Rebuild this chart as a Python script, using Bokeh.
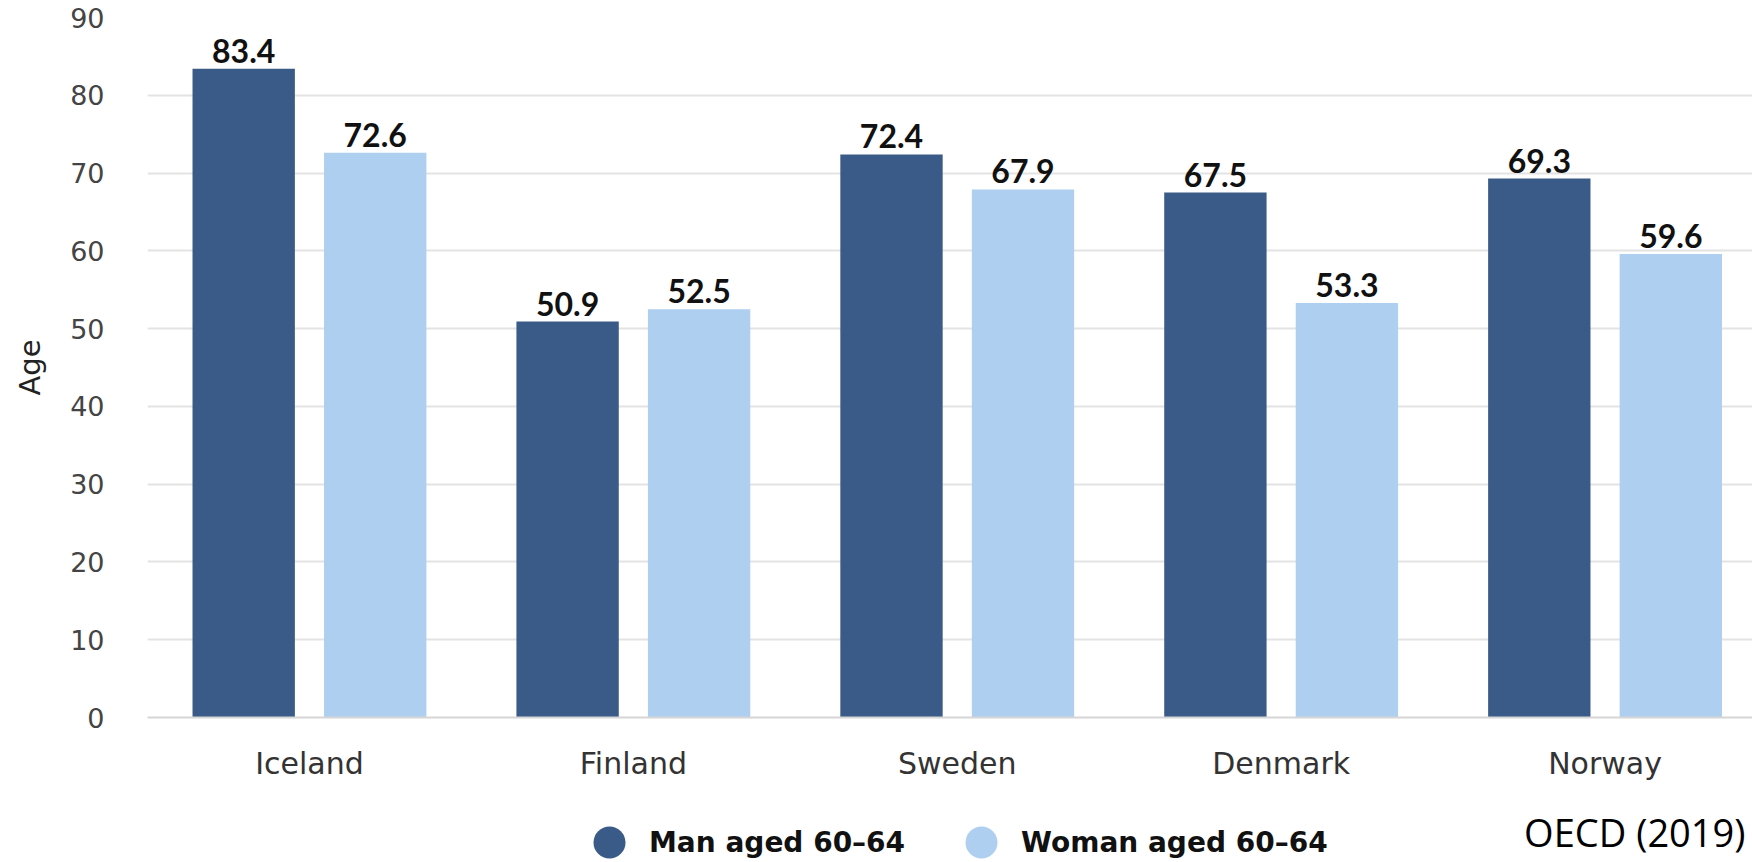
from bokeh.plotting import figure
from bokeh.layouts import column
from bokeh.models import ColumnDataSource, Range1d, FixedTicker, Legend, LegendItem, Label
from bokeh.transform import dodge
from bokeh.core.properties import value
from bokeh.embed import file_html
from bokeh.resources import INLINE

# ---- data ----
countries = ["Iceland", "Finland", "Sweden", "Denmark", "Norway"]
man_60_64 = [83.4, 50.9, 72.4, 67.5, 69.3]
woman_60_64 = [72.6, 52.5, 67.9, 53.3, 59.6]
y_ticks = [0, 10, 20, 30, 40, 50, 60, 70, 80, 90]
series_names = ["Man aged 60\u201364", "Woman aged 60\u201364"]
y_title = "Age"
source_note = "OECD (2019)"

# ---- style / layout ----
MAN_COLOR = "#3a5a87"
WOMAN_COLOR = "#aecff0"
W = 1752
H1, H2 = 790, 72
LEFT, TOP = 147, 17
BOTTOM = H1 - 717
frame_w = W - LEFT
CAT_PX = 323.9
BAR_W = 0.316
OFF = 0.203

pos = list(range(1, len(countries) + 1))
src = ColumnDataSource(dict(
    pos=pos,
    country=countries,
    man=man_60_64,
    woman=woman_60_64,
    man_lbl=[f"{v:.1f}" for v in man_60_64],
    woman_lbl=[f"{v:.1f}" for v in woman_60_64],
))

p = figure(width=W, height=H1,
           x_range=Range1d(0.5, 0.5 + frame_w / CAT_PX),
           y_range=Range1d(y_ticks[0], y_ticks[-1]),
           output_backend="svg", toolbar_location=None,
           min_border_left=LEFT, min_border_top=TOP,
           min_border_bottom=BOTTOM, min_border_right=0)
p.outline_line_color = None

p.vbar(x=dodge("pos", -OFF), top="man", width=BAR_W, source=src,
       fill_color=MAN_COLOR, line_color=None)
p.vbar(x=dodge("pos", OFF), top="woman", width=BAR_W, source=src,
       fill_color=WOMAN_COLOR, line_color=None)

lbl_kw = dict(text_align="center", text_baseline="bottom", y_offset=-6,
              text_font=value("Lato"), text_font_style="bold",
              text_font_size="32px", text_color="#111111")
p.text(x=dodge("pos", -OFF), y="man", text="man_lbl", source=src, **lbl_kw)
p.text(x=dodge("pos", OFF), y="woman", text="woman_lbl", source=src, **lbl_kw)

# axes
p.xaxis.ticker = FixedTicker(ticks=pos)
p.xaxis.major_label_overrides = {i: c for i, c in zip(pos, countries)}
p.xaxis.major_tick_line_color = None
p.xaxis.minor_tick_line_color = None
p.xaxis.major_tick_out = 0
p.xaxis.major_tick_in = 0
p.xaxis.axis_line_color = "#d6d6d6"
p.xaxis.axis_line_width = 2
p.xaxis.major_label_standoff = 28
p.xaxis.major_label_text_font = "DejaVu Sans"
p.xaxis.major_label_text_font_size = "30px"
p.xaxis.major_label_text_color = "#333333"

p.yaxis.ticker = FixedTicker(ticks=y_ticks)
p.yaxis.axis_line_color = None
p.yaxis.major_tick_line_color = None
p.yaxis.minor_tick_line_color = None
p.yaxis.major_tick_out = 0
p.yaxis.major_tick_in = 0
p.yaxis.major_label_standoff = 43
p.yaxis.major_label_text_font = "DejaVu Sans"
p.yaxis.major_label_text_font_size = "27px"
p.yaxis.major_label_text_color = "#444444"
p.yaxis.axis_label = y_title
p.yaxis.axis_label_text_font = "DejaVu Sans"
p.yaxis.axis_label_text_font_size = "29px"
p.yaxis.axis_label_text_font_style = "normal"
p.yaxis.axis_label_text_color = "#222222"
p.yaxis.axis_label_standoff = 20

p.xgrid.grid_line_color = None
p.ygrid.grid_line_color = "#e3e3e3"
p.ygrid.grid_line_width = 2

# ---- bottom strip: legend + source note ----
p2 = figure(width=W, height=H2, x_range=Range1d(LEFT, W), y_range=Range1d(0, H2),
            output_backend="svg", toolbar_location=None,
            x_axis_location=None, y_axis_location=None,
            min_border_left=LEFT, min_border_right=0,
            min_border_top=0, min_border_bottom=0)
p2.outline_line_color = None
p2.xgrid.grid_line_color = None
p2.ygrid.grid_line_color = None

nan = float("nan")
s1 = p2.scatter(x=[nan], y=[nan], marker="circle", fill_color=MAN_COLOR, line_color=None)
s2 = p2.scatter(x=[nan], y=[nan], marker="circle", fill_color=WOMAN_COLOR, line_color=None)
legend = Legend(items=[LegendItem(label=series_names[0], renderers=[s1]),
                       LegendItem(label=series_names[1], renderers=[s2])],
                orientation="horizontal", location=(422, -20),
                glyph_width=80, glyph_height=80, label_standoff=0, spacing=36,
                padding=0, margin=0, border_line_color=None,
                background_fill_alpha=0,
                label_text_font="DejaVu Sans", label_text_font_style="bold",
                label_text_font_size="28px", label_text_color="#111111")
p2.add_layout(legend)

note = Label(x=1745, y=31, text=source_note, text_align="right",
             text_baseline="middle", text_font="Open Sans",
             text_font_size="38px", text_color="#000000")
p2.add_layout(note)

layout = column(p, p2, spacing=0)
open("out.html", "w").write(file_html(layout, INLINE))
